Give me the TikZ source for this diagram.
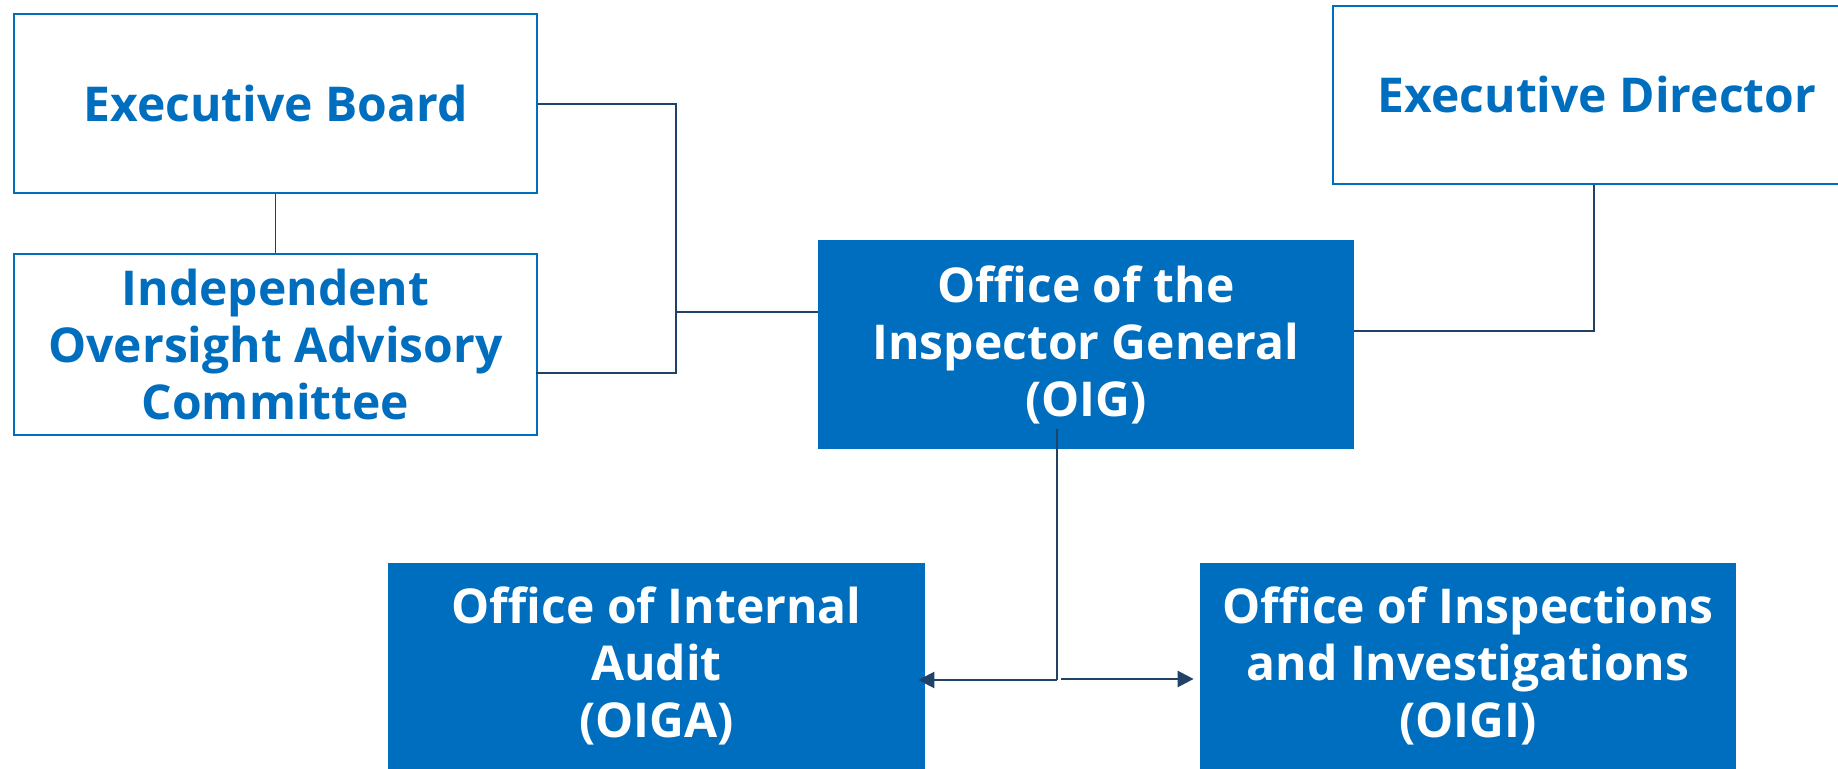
\documentclass[tikz,border=0pt]{standalone}
\usepackage{fontspec}
\setmainfont{Open Sans}
\usetikzlibrary{arrows.meta,calc}
\definecolor{unblue}{HTML}{006EBF}
\definecolor{linenavy}{HTML}{1F4266}
\tikzset{
  txt/.style={font=\bfseries\fontsize{24}{28.5}\selectfont, align=center, inner sep=0pt},
  outlinebox/.style={txt, draw=unblue, line width=1pt, text=unblue, fill=white},
  filledbox/.style={txt, fill=unblue, text=white},
  conn/.style={draw=linenavy, line width=0.8pt},
  arr/.style={draw=linenavy, line width=1.3pt, -{Triangle[length=8pt,width=8pt]}}
}
\begin{document}
\begin{tikzpicture}[x=0.5pt,y=-0.5pt]
\useasboundingbox[fill=white] (0,0) rectangle (1838,769);
% boxes
\node[outlinebox, minimum width=261.5pt, minimum height=89.5pt] (eb) at (275.5,103.5) {Executive Board};
\node[outlinebox, minimum width=261.5pt, minimum height=90.5pt] (ioac) at (275.5,344.5) {Independent\\Oversight Advisory\\Committee};
\node[filledbox, minimum width=268pt, minimum height=104.5pt] (oig) at (1086,344.5) {Office of the\\Inspector General\\(OIG)};
\node[outlinebox, minimum width=264pt, minimum height=89pt] (ed) at (1597,95) {Executive Director};
\node[filledbox, minimum width=268.5pt, minimum height=103pt] (oiga) at (656.5,666) {Office of Internal\\Audit\\(OIGA)};
\node[filledbox, minimum width=268pt, minimum height=103pt] (oigi) at (1468,666) {Office of Inspections\\and Investigations\\(OIGI)};
% connectors
\coordinate (j) at (676,312);
\draw[conn] (eb.south) -- (ioac.north);
\draw[conn] (eb.east |- 0,104) -- (676,104) -- (j) -- (oig.west |- j);
\draw[conn] ([xshift=-1pt]ioac.east |- 0,373) -- (676,373) -- (j);
\coordinate (edc) at (1594,331);
\draw[conn] (ed.south -| edc) -- (edc) -- (oig.east |- edc);
\coordinate (d) at (1057,680);
\draw[draw=linenavy, line width=1.3pt] (1057,429) -- (d);
\draw[arr] (d) -- ([xshift=-3.5pt]oiga.east |- d);
\draw[arr] (1061,679) -- ([xshift=-3pt]oigi.west |- 0,679);
\end{tikzpicture}
\end{document}
